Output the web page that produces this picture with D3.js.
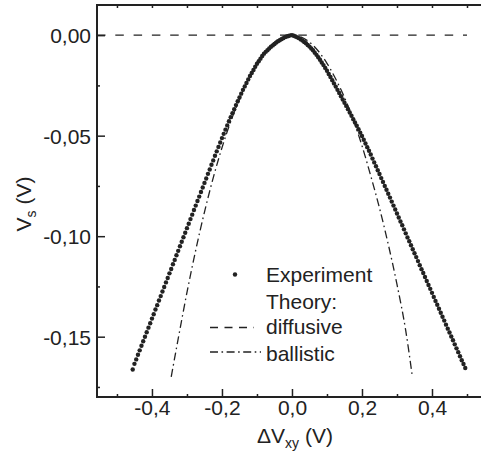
<!DOCTYPE html>
<html>
<head>
<meta charset="utf-8">
<script src="https://cdn.jsdelivr.net/npm/d3@7"></script>
<style>
  body { margin: 0; background: #fff; }
  text { font-family: "Liberation Sans", Arial, sans-serif; fill: #222; }
</style>
</head>
<body>
<div id="chart"></div>
<script>
// ---------------------------------------------------------------------------
// Data: [ΔVxy (V), Vs (V)]
// ---------------------------------------------------------------------------

const experiment = [
  [-0.455,-0.1663],[-0.450,-0.1635],[-0.445,-0.1613],[-0.440,-0.1590],[-0.435,-0.1568],
  [-0.430,-0.1545],[-0.425,-0.1523],[-0.420,-0.1500],[-0.415,-0.1478],[-0.410,-0.1455],
  [-0.405,-0.1433],[-0.400,-0.1410],[-0.395,-0.1388],[-0.390,-0.1365],[-0.385,-0.1343],
  [-0.380,-0.1320],[-0.375,-0.1298],[-0.370,-0.1275],[-0.365,-0.1253],[-0.360,-0.1230],
  [-0.355,-0.1208],[-0.350,-0.1185],[-0.345,-0.1163],[-0.340,-0.1140],[-0.335,-0.1118],
  [-0.330,-0.1095],[-0.325,-0.1073],[-0.320,-0.1050],[-0.315,-0.1028],[-0.310,-0.1005],
  [-0.305,-0.0983],[-0.300,-0.0960],[-0.295,-0.0938],[-0.290,-0.0915],[-0.285,-0.0893],
  [-0.280,-0.0870],[-0.275,-0.0848],[-0.270,-0.0825],[-0.265,-0.0803],[-0.260,-0.0780],
  [-0.255,-0.0758],[-0.250,-0.0735],[-0.245,-0.0713],[-0.240,-0.0690],[-0.235,-0.0668],
  [-0.230,-0.0645],[-0.225,-0.0623],[-0.220,-0.0600],[-0.215,-0.0578],[-0.210,-0.0556],
  [-0.205,-0.0534],[-0.200,-0.0512],[-0.195,-0.0491],[-0.190,-0.0470],[-0.185,-0.0449],
  [-0.180,-0.0428],[-0.175,-0.0408],[-0.170,-0.0388],[-0.165,-0.0368],[-0.160,-0.0348],
  [-0.155,-0.0329],[-0.150,-0.0310],[-0.145,-0.0291],[-0.140,-0.0272],[-0.135,-0.0255],
  [-0.130,-0.0238],[-0.125,-0.0220],[-0.120,-0.0203],[-0.115,-0.0188],[-0.110,-0.0173],
  [-0.105,-0.0157],[-0.100,-0.0142],[-0.095,-0.0130],[-0.090,-0.0117],[-0.085,-0.0104],
  [-0.080,-0.0092],[-0.075,-0.0083],[-0.070,-0.0075],[-0.065,-0.0066],[-0.060,-0.0058],
  [-0.055,-0.0051],[-0.050,-0.0044],[-0.045,-0.0037],[-0.040,-0.0030],[-0.035,-0.0025],
  [-0.030,-0.0020],[-0.025,-0.0015],[-0.020,-0.0010],[-0.015,-0.0007],[-0.010,-0.0004],
  [-0.005,-0.0001],[0.000,0.0000],
  [0.005,-0.0003],[0.010,-0.0007],[0.015,-0.0011],[0.020,-0.0015],[0.025,-0.0021],
  [0.030,-0.0027],[0.035,-0.0034],[0.040,-0.0040],[0.045,-0.0049],[0.050,-0.0057],
  [0.055,-0.0066],[0.060,-0.0075],[0.065,-0.0087],[0.070,-0.0098],[0.075,-0.0110],
  [0.080,-0.0122],[0.085,-0.0136],[0.090,-0.0149],[0.095,-0.0163],[0.100,-0.0177],
  [0.105,-0.0193],[0.110,-0.0208],[0.115,-0.0224],[0.120,-0.0240],[0.125,-0.0256],
  [0.130,-0.0272],[0.135,-0.0288],[0.140,-0.0304],[0.145,-0.0320],[0.150,-0.0336],
  [0.155,-0.0352],[0.160,-0.0368],[0.165,-0.0385],[0.170,-0.0401],[0.175,-0.0418],
  [0.180,-0.0434],[0.185,-0.0451],[0.190,-0.0468],[0.195,-0.0485],[0.200,-0.0502],
  [0.205,-0.0520],[0.210,-0.0539],[0.215,-0.0557],[0.220,-0.0575],[0.225,-0.0594],
  [0.230,-0.0614],[0.235,-0.0633],[0.240,-0.0652],[0.245,-0.0672],[0.250,-0.0691],
  [0.255,-0.0711],[0.260,-0.0730],[0.265,-0.0750],[0.270,-0.0769],[0.275,-0.0789],
  [0.280,-0.0808],[0.285,-0.0828],[0.290,-0.0848],[0.295,-0.0867],[0.300,-0.0887],
  [0.305,-0.0907],[0.310,-0.0927],[0.315,-0.0946],[0.320,-0.0966],[0.325,-0.0986],
  [0.330,-0.1006],[0.335,-0.1025],[0.340,-0.1045],[0.345,-0.1065],[0.350,-0.1085],
  [0.355,-0.1104],[0.360,-0.1124],[0.365,-0.1144],[0.370,-0.1164],[0.375,-0.1183],
  [0.380,-0.1203],[0.385,-0.1223],[0.390,-0.1243],[0.395,-0.1262],[0.400,-0.1282],
  [0.405,-0.1302],[0.410,-0.1322],[0.415,-0.1341],[0.420,-0.1361],[0.425,-0.1381],
  [0.430,-0.1401],[0.435,-0.1420],[0.440,-0.1440],[0.445,-0.1460],[0.450,-0.1479],
  [0.455,-0.1499],[0.460,-0.1518],[0.465,-0.1538],[0.470,-0.1558],[0.475,-0.1577],
  [0.480,-0.1597],[0.485,-0.1617],[0.490,-0.1636],[0.495,-0.1656]
];

const ballistic = [
  [-0.345,-0.170],[-0.325,-0.151],[-0.300,-0.128],[-0.275,-0.107],[-0.250,-0.088],
  [-0.225,-0.071],[-0.200,-0.056],[-0.175,-0.043],[-0.150,-0.032],[-0.125,-0.022],
  [-0.100,-0.0143],[-0.075,-0.008],[-0.050,-0.0036],[-0.025,-0.0009],[0,0],
  [0.025,-0.0009],[0.050,-0.0035],[0.075,-0.0079],[0.100,-0.014],[0.125,-0.0218],
  [0.150,-0.031],[0.175,-0.042],[0.200,-0.055],[0.225,-0.070],[0.250,-0.086],
  [0.275,-0.104],[0.300,-0.124],[0.325,-0.147],[0.344,-0.170]
];

const diffusive = [[-0.557, 0], [0.5, 0]];

const xTicks = [-0.4, -0.2, 0.0, 0.2, 0.4];
const xMinorTicks = [-0.5, -0.3, -0.1, 0.1, 0.3, 0.5];
const xTopTicks = [-0.5, -0.4, -0.3, -0.2, -0.1, 0.0, 0.1, 0.2, 0.3, 0.4, 0.5];
const yTicks = [0.00, -0.05, -0.10, -0.15];
const yMinorTicks = [-0.025, -0.075, -0.125, -0.175];

const legendItems = ["Experiment", "Theory:", "diffusive", "ballistic"];

// ---------------------------------------------------------------------------
// Layout
// ---------------------------------------------------------------------------

const width = 481, height = 455;
const plot = {left: 97, right: 481, top: 5, bottom: 397};
const ink = "#222";

const x = d3.scaleLinear().domain([-0.557, 0.54]).range([plot.left, plot.right]);
const y = d3.scaleLinear().domain([0.015, -0.18]).range([plot.top, plot.bottom]);

const svg = d3.select("#chart").append("svg")
  .attr("width", width)
  .attr("height", height);

const comma = (d, n) => d.toFixed(n).replace(".", ",");

// theory lines
const line = d3.line().x(d => x(d[0])).y(d => y(d[1]));

svg.append("path")
  .datum(diffusive)
  .attr("d", line)
  .attr("fill", "none")
  .attr("stroke", ink)
  .attr("stroke-width", 1.4)
  .attr("stroke-dasharray", "8.5,9.8");

svg.append("path")
  .datum(ballistic)
  .attr("d", line.curve(d3.curveMonotoneX))
  .attr("fill", "none")
  .attr("stroke", ink)
  .attr("stroke-width", 1.3)
  .attr("stroke-dasharray", "8,3.5,1.6,3.5");

// experiment dots
svg.append("g")
  .selectAll("circle")
  .data(experiment)
  .join("circle")
  .attr("cx", d => x(d[0]))
  .attr("cy", d => y(d[1]))
  .attr("r", 2.2)
  .attr("fill", ink);

// ---------------------------------------------------------------------------
// Axes (ticks point inward)
// ---------------------------------------------------------------------------

function styleAxis(g) {
  g.select(".domain").remove();
  g.selectAll(".tick line").attr("stroke", ink).attr("stroke-width", 1.5);
  g.selectAll("text")
    .style("font-size", "21px")
    .style("font-family", "'Liberation Sans', Arial, sans-serif")
    .attr("fill", ink);
}

svg.append("g")
  .attr("transform", "translate(0," + plot.bottom + ")")
  .call(d3.axisBottom(x).tickValues(xTicks).tickSize(-8).tickPadding(3)
    .tickFormat(d => comma(d, 1)))
  .call(styleAxis);

svg.append("g")
  .attr("transform", "translate(0," + plot.bottom + ")")
  .call(d3.axisBottom(x).tickValues(xMinorTicks).tickSize(-3).tickFormat(() => null))
  .call(styleAxis);

svg.append("g")
  .attr("transform", "translate(0," + plot.top + ")")
  .call(d3.axisTop(x).tickValues(xTopTicks).tickSize(-3).tickFormat(() => null))
  .call(styleAxis);

svg.append("g")
  .attr("transform", "translate(" + plot.left + ",0)")
  .call(d3.axisLeft(y).tickValues(yTicks).tickSize(-8).tickPadding(6)
    .tickFormat(d => comma(d, 2)))
  .call(styleAxis)
  .selectAll("text").attr("dy", "0.36em");

svg.append("g")
  .attr("transform", "translate(" + plot.left + ",0)")
  .call(d3.axisLeft(y).tickValues(yMinorTicks).tickSize(-3).tickFormat(() => null))
  .call(styleAxis);

// frame lines
const frame = svg.append("g").attr("stroke", ink).attr("stroke-width", 2);
frame.append("line").attr("x1", plot.left).attr("x2", plot.right + 2)
  .attr("y1", plot.bottom).attr("y2", plot.bottom);
frame.append("line").attr("x1", plot.left).attr("x2", plot.right + 2)
  .attr("y1", plot.top).attr("y2", plot.top);
frame.append("line").attr("x1", plot.left).attr("x2", plot.left)
  .attr("y1", plot.top - 1).attr("y2", plot.bottom + 1);

// axis titles
const xTitle = svg.append("text")
  .attr("x", 295).attr("y", 443)
  .attr("text-anchor", "middle")
  .style("font-size", "21px");
xTitle.append("tspan").text("\u0394V");
xTitle.append("tspan").attr("dy", 5).style("font-size", "14px").text("xy");
xTitle.append("tspan").attr("dy", -5).text(" (V)");

const yTitle = svg.append("text")
  .attr("transform", "translate(31,204) rotate(-90)")
  .attr("text-anchor", "middle")
  .style("font-size", "21px");
yTitle.append("tspan").text("V");
yTitle.append("tspan").attr("dy", 5).style("font-size", "14px").text("s");
yTitle.append("tspan").attr("dy", -5).text(" (V)");

// ---------------------------------------------------------------------------
// Legend
// ---------------------------------------------------------------------------

const legend = svg.append("g");
const rowY = [282, 308.5, 334, 360.5];

legend.selectAll("text")
  .data(legendItems)
  .join("text")
  .attr("x", 266)
  .attr("y", (d, i) => rowY[i])
  .style("font-size", "21px")
  .text(d => d);

legend.append("circle")
  .attr("cx", 235).attr("cy", 274.5).attr("r", 2.2).attr("fill", ink);

legend.append("line")
  .attr("x1", 210).attr("x2", 254).attr("y1", 327.5).attr("y2", 327.5)
  .attr("stroke", ink).attr("stroke-width", 1.4)
  .attr("stroke-dasharray", "8,6.5");

legend.append("line")
  .attr("x1", 210).attr("x2", 261).attr("y1", 352).attr("y2", 352)
  .attr("stroke", ink).attr("stroke-width", 1.4)
  .attr("stroke-dasharray", "8,3.5,1.6,3.5");
</script>
</body>
</html>
